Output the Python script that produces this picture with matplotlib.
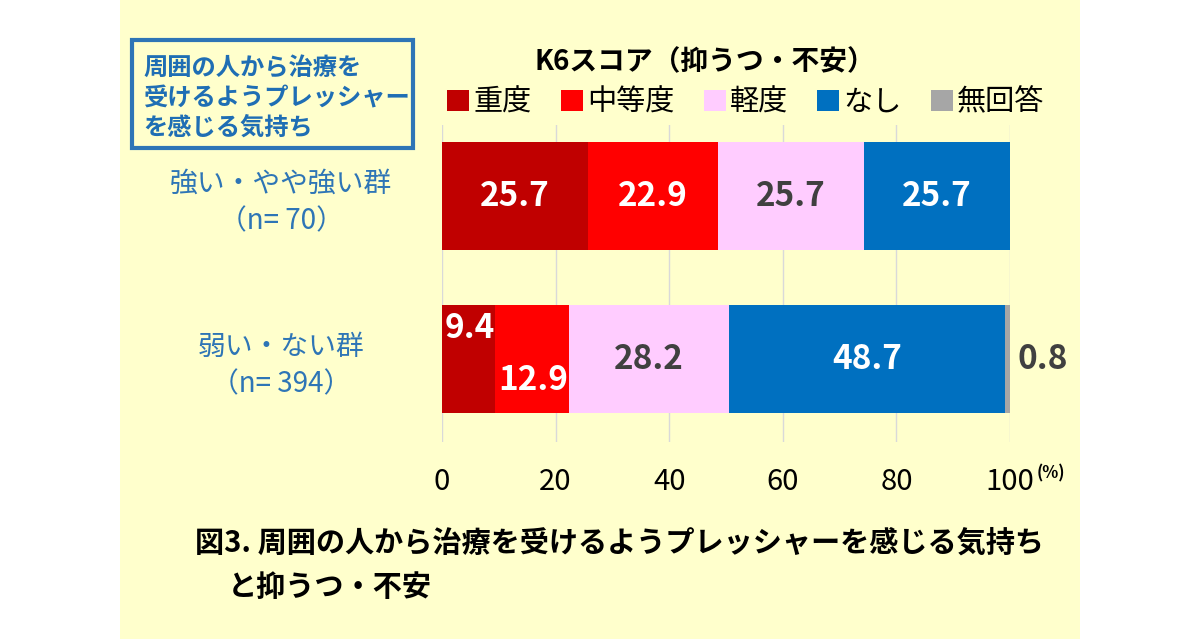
import matplotlib
matplotlib.use("Agg")
import matplotlib.pyplot as plt
import matplotlib.patches as patches
import numpy as np

plt.rcParams['font.family'] = ['Noto Sans CJK JP', 'DejaVu Sans']

groups = ["強い・やや強い群\n（n= 70）", "弱い・ない群\n（n= 394）"]
levels = ["重度", "中等度", "軽度", "なし", "無回答"]
colors = ["#C00000", "#FF0000", "#FFCCFF", "#0070C0", "#A6A6A6"]
text_colors = ["white", "white", "#404040", "white", "#404040"]
strong = [25.7, 22.9, 25.7, 25.7, 0.0]
weak = [9.4, 12.9, 28.2, 48.7, 0.8]
values = np.array([strong, weak])

fig = plt.figure(figsize=(12, 6.39), dpi=100, facecolor="white")
fig.patches.append(patches.Rectangle((120 / 1200, 0), 960 / 1200, 1,
                                     transform=fig.transFigure,
                                     facecolor="#FFFFCC", edgecolor="none", zorder=-10))

ax = fig.add_axes([442 / 1200, 197 / 639, 568 / 1200, 317 / 639])
ax.set_facecolor("none")

y = np.arange(len(groups))
left = np.zeros(len(groups))
for j, lev in enumerate(levels):
    ax.barh(y, values[:, j], left=left, height=0.663, color=colors[j],
            label=lev, zorder=3)
    for i in range(len(groups)):
        v = values[i, j]
        if v == 0:
            continue
        cx = left[i] + v / 2
        kw = dict(color=text_colors[j], fontsize=24, fontweight="bold", zorder=4, va="center")
        if i == 1 and j == 0:
            ax.text(left[i] + 0.5, y[i] - 0.19, f"{v:.1f}", ha="left", **kw)
        elif i == 1 and j == 1:
            ax.text(left[i] + v, y[i] + 0.13, f"{v:.1f}", ha="right", **kw)
        elif j == 4:
            ax.text(left[i] + v + 1.3, y[i], f"{v:.1f}", ha="left", **kw)
        else:
            ax.text(cx, y[i], f"{v:.1f}", ha="center", **kw)
    left = left + values[:, j]

ax.set_xlim(0, 100)
ax.set_ylim(1.509, -0.436)
ax.set_xticks(np.arange(0, 101, 20))
ax.tick_params(axis="x", length=0, pad=18, labelsize=21)
ax.set_yticks([])
ax.grid(axis="x", color="#D9D9D9", linewidth=1, zorder=0)
for s in ax.spines.values():
    s.set_visible(False)

ax.text(1.072, -0.1, "(%)", transform=ax.transAxes, fontsize=12,
        fontweight="bold", ha="center", va="center")

for i, g in enumerate(groups):
    ax.text(-0.2835, y[i] + 0.04, g, transform=ax.get_yaxis_transform(),
            ha="center", va="center", fontsize=20, color="#2E75B6",
            linespacing=1.35)

ax.legend(ncol=5, loc="center", bbox_to_anchor=(0.535, 1.07), frameon=False,
          fontsize=21, handlelength=0.75, handleheight=0.75, handletextpad=0.15,
          columnspacing=1.0, borderaxespad=0)

fig.text(705 / 1200, 1 - 62 / 639, "K6スコア（抑うつ・不安）", ha="center", va="center",
         fontsize=20, fontweight="bold")

fig.patches.append(patches.Rectangle((132 / 1200, 1 - 148 / 639), 281 / 1200, 108 / 639,
                                     transform=fig.transFigure, facecolor="none",
                                     edgecolor="#2E75B6", linewidth=3))
box_lines = ["周囲の人から治療を", "受けるようプレッシャー", "を感じる気持ち"]
for k, line in enumerate(box_lines):
    fig.text(143 / 1200, 1 - (68 + 30 * k) / 639, line, ha="left", va="center",
             fontsize=17.5, fontweight="bold", color="#1F6EB4")

fig.text(195 / 1200, 1 - 543 / 639, "図3. 周囲の人から治療を受けるようプレッシャーを感じる気持ち",
         ha="left", va="center", fontsize=21, fontweight="bold")
fig.text(228 / 1200, 1 - 587 / 639, "と抑うつ・不安",
         ha="left", va="center", fontsize=21, fontweight="bold")

fig.savefig("out.png", dpi=100, facecolor=fig.get_facecolor())
